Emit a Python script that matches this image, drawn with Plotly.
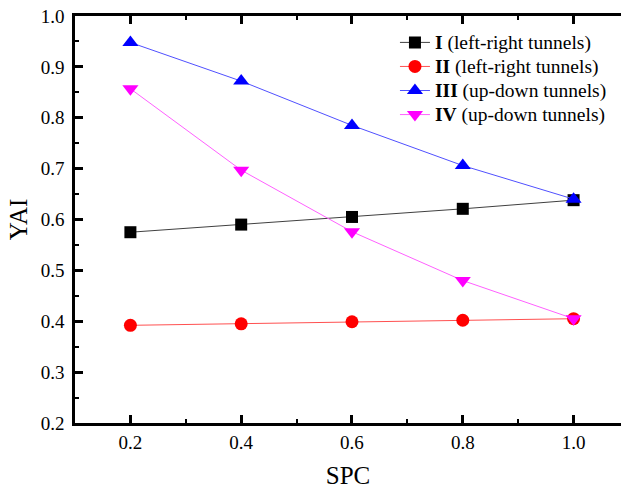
import plotly.graph_objects as go

spc = [0.2, 0.4, 0.6, 0.8, 1.0]
yai_I = [0.575, 0.590, 0.605, 0.621, 0.638]
yai_II = [0.392, 0.395, 0.399, 0.402, 0.405]
yai_III = [0.948, 0.872, 0.785, 0.706, 0.640]
yai_IV = [0.857, 0.697, 0.576, 0.480, 0.405]

numerals = ["I", "II", "III", "IV"]
tunnel_types = ["left-right tunnels", "left-right tunnels", "up-down tunnels", "up-down tunnels"]
series = [yai_I, yai_II, yai_III, yai_IV]
colors = ["#000000", "#FF0000", "#0000FF", "#FF00FF"]
line_colors = ["#404040", "#FF5050", "#5050FF", "#FF60FF"]
symbols = ["square", "circle", "triangle-up", "triangle-down"]
sizes = [12, 13, 14, 14]

fig = go.Figure()
for num, tt, s, c, lc, sym, sz in zip(numerals, tunnel_types, series, colors, line_colors, symbols, sizes):
    label = f'<span style="font-size:19.5px"><b>{num}</b> ({tt})</span>'
    fig.add_trace(go.Scatter(
        x=spc, y=s, name=label, mode="lines+markers",
        line=dict(color=lc, width=1),
        marker=dict(symbol=sym, size=sz, color=c, line=dict(width=0)),
    ))

font = "Liberation Serif, Times New Roman, serif"
fig.update_layout(
    width=621, height=489,
    margin=dict(l=75, r=0, t=16, b=66),
    paper_bgcolor="white", plot_bgcolor="white",
    font=dict(family=font, size=19, color="black"),
    showlegend=True,
    legend=dict(x=0.586, y=0.977, xanchor="left", yanchor="top",
                bgcolor="rgba(0,0,0,0)", font=dict(size=16.2, family=font),
                tracegroupgap=0, itemwidth=30),
    xaxis=dict(
        range=[0.1, 1.0856], tickmode="array", tickvals=[0.2, 0.4, 0.6, 0.8, 1.0],
        ticktext=["0.2", "0.4", "0.6", "0.8", "1.0"],
        showgrid=False, zeroline=False,
        showline=True, linecolor="black", linewidth=2.5, mirror="ticks",
        ticks="inside", ticklen=8, tickwidth=2.5, tickcolor="black",
        minor=dict(tickvals=[0.3, 0.5, 0.7, 0.9], ticks="inside", ticklen=4, tickwidth=2, tickcolor="black"),
        title=dict(text="SPC", font=dict(size=25, family=font), standoff=15),
        tickfont=dict(size=19, family=font),
    ),
    yaxis=dict(
        range=[0.2, 1.0], tickmode="array",
        tickvals=[0.2, 0.3, 0.4, 0.5, 0.6, 0.7, 0.8, 0.9, 1.0],
        ticktext=["0.2", "0.3", "0.4", "0.5", "0.6", "0.7", "0.8", "0.9", "1.0"],
        showgrid=False, zeroline=False,
        showline=True, linecolor="black", linewidth=2.5, mirror=False,
        ticks="inside", ticklen=8, tickwidth=2.5, tickcolor="black",
        minor=dict(tickvals=[0.25, 0.35, 0.45, 0.55, 0.65, 0.75, 0.85, 0.95], ticks="inside", ticklen=4, tickwidth=2, tickcolor="black"),
        title=dict(text="YAI", font=dict(size=25, family=font), standoff=6),
        tickfont=dict(size=19, family=font),
        ticklabelstandoff=4,
    ),
)

fig.write_html("out.html")
